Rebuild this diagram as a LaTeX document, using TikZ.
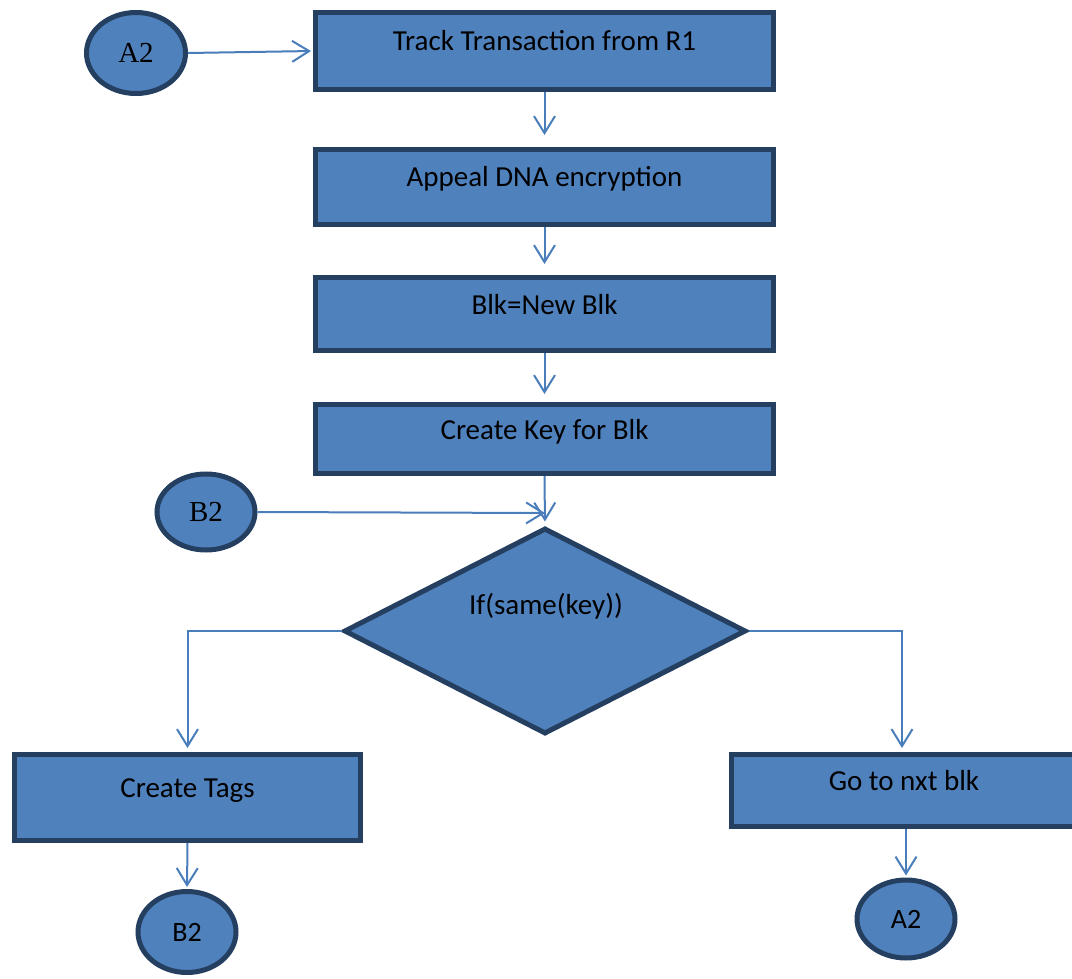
\documentclass[tikz,border=0pt]{standalone}
\usepackage{fontspec}
\setmainfont{Carlito}
\newfontfamily\serifA{Liberation Serif}
\usetikzlibrary{arrows.meta,shapes.geometric}
\definecolor{boxfill}{HTML}{4F81BD}
\definecolor{boxline}{HTML}{243F60}
\definecolor{arrowc}{HTML}{4A7EBB}
\begin{document}
\begin{tikzpicture}[x=1pt,y=-1pt,
  stepbox/.style={draw=boxline, fill=boxfill, line width=5pt, inner sep=0pt,
    font=\fontsize{29}{34}\selectfont, text height=10pt, text depth=10pt},
  connector/.style={draw=boxline, fill=boxfill, ellipse, line width=5pt, inner sep=0pt,
    minimum width=99pt, minimum height=80pt},
  conn/.style={draw=arrowc, line width=2pt, -{Straight Barb[length=17pt,width=21pt,line width=2pt]}},
  serifa/.style={font=\serifA\fontsize{29}{34}\selectfont},
  sansa/.style={font=\fontsize{28}{34}\selectfont}]
\useasboundingbox (0,0) rectangle (1072,979);

\node[stepbox, minimum width=458pt, minimum height=77pt] (b1) at (544.5,51) {Track Transaction from R1};
\node[stepbox, minimum width=458pt, minimum height=75pt] (b2) at (544.5,187) {Appeal DNA encryption};
\node[stepbox, minimum width=458pt, minimum height=73pt] (b3) at (544.5,314) {Blk=New Blk};
\node[stepbox, minimum width=458pt, minimum height=69pt] (b4) at (544.5,439) {Create Key for Blk};

\node[draw=boxline, fill=boxfill, diamond, line width=5pt, inner sep=0pt,
  minimum width=402pt, minimum height=206pt] (d) at (545,631) {};
\node[font=\fontsize{29}{34}\selectfont, anchor=base] (dt) at (546,614) {If(same(key))};

\node[stepbox, minimum width=346pt, minimum height=86pt] (tags) at (187.5,797.5) {Create Tags};
\node[stepbox, minimum width=345pt, minimum height=72pt] (go) at (904,790.5) {Go to nxt blk};

\node[connector, serifa, minimum width=99pt, minimum height=81pt] (a2t) at (136,53) {A2};
\node[connector, serifa, minimum width=98pt, minimum height=76pt] (b2m) at (206,512) {B2};
\node[connector, sansa, minimum width=98pt, minimum height=81pt] (b2b) at (187,932) {B2};
\node[connector, sansa, minimum width=98pt, minimum height=78pt] (a2b) at (906,919) {A2};

\coordinate (j) at (545,513);

\draw[conn, shorten >=2pt] (a2t.east) -- (b1.west);
\draw[conn, shorten >=12pt] (b1.south) -- (b2.north);
\draw[conn, shorten >=11pt] (b2.south) -- (b3.north);
\draw[conn, shorten >=8pt] (b3.south) -- (b4.north);
\draw[conn, shorten >=4pt] (b4.south) -- (d.north);
\draw[conn] (b2m.east) -- (j);
\draw[conn, shorten >=4pt] (d.west) -| (tags.north);
\draw[conn, shorten >=4pt] (d.east) -| ([xshift=-2pt]go.north);
\draw[conn, shorten >=2pt] (tags.south) -- (b2b.north);
\draw[conn, shorten >=2pt] (go.south -| a2b.north) -- (a2b.north);
\end{tikzpicture}
\end{document}
